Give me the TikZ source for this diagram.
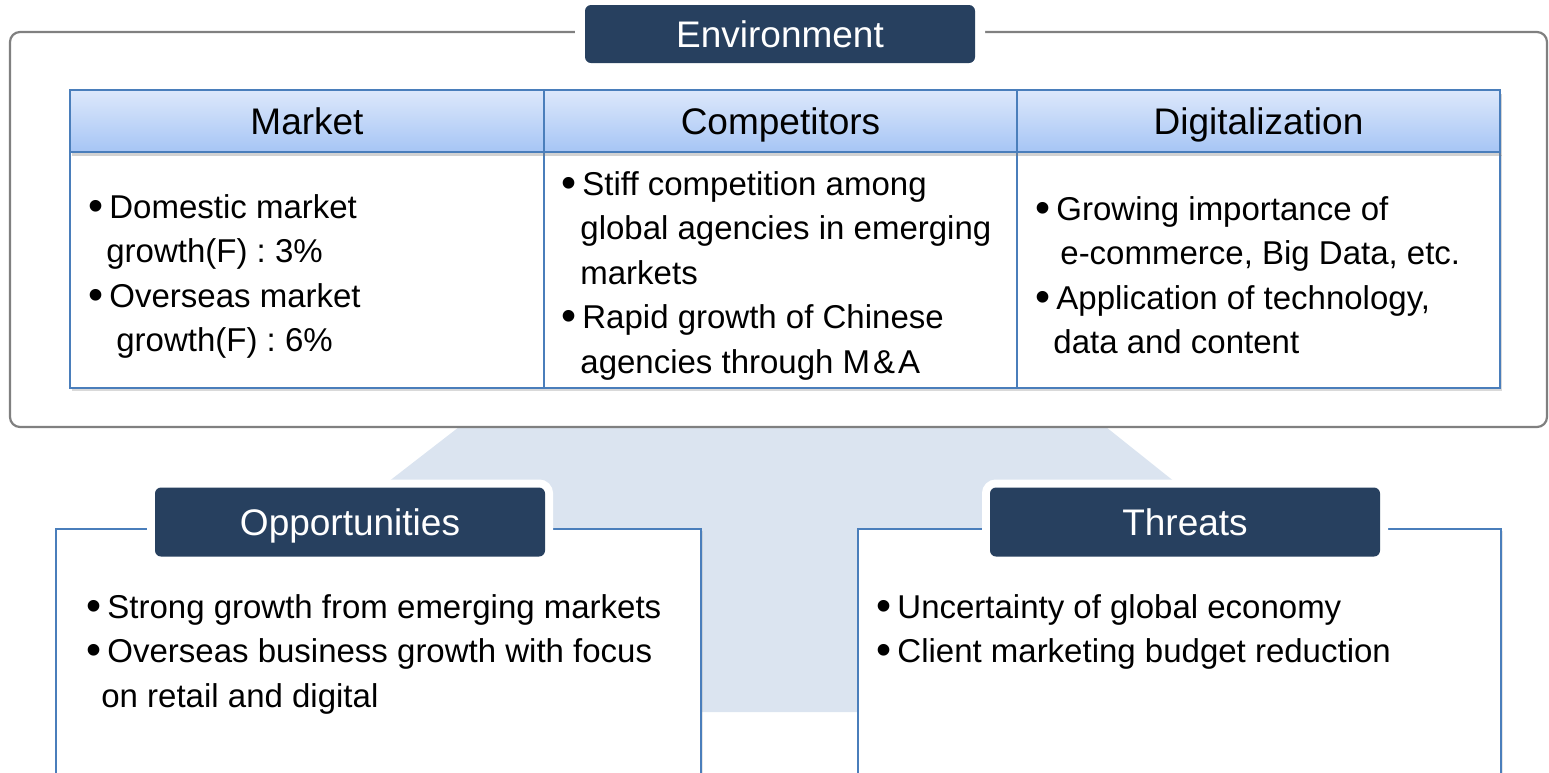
\documentclass[tikz,border=0pt]{standalone}
\usepackage{fontspec}
\usepackage{graphicx}
\setmainfont{Liberation Sans}
\usetikzlibrary{positioning,shadows}

\definecolor{navy}{HTML}{27405F}
\definecolor{cellline}{HTML}{4A7EBB}
\definecolor{headtop}{HTML}{DDE8FB}
\definecolor{headbot}{HTML}{A6C5F5}
\definecolor{funnel}{HTML}{DBE4F0}
\definecolor{framegray}{HTML}{808080}

% a slightly heavier bullet
\newcommand{\bul}{\raisebox{-1pt}{\scalebox{1.3}{\textbullet}}\kern3pt}

\tikzset{
  tag/.style={fill=navy, text=white, rounded corners=3pt, inner sep=0pt,
    minimum width=195pt, minimum height=#1,
    text height=14.5pt, text depth=1.5pt,
    font=\fontsize{18.5}{22}\selectfont,
    preaction={draw=white, line width=8pt}},
  tag/.default=29pt,
  envframe/.style={draw=framegray, line width=1.1pt, rounded corners=5pt},
  headcell/.style={draw=cellline, line width=0.7pt, top color=headtop,
    bottom color=headbot, minimum height=31pt, inner sep=0pt, outer sep=0pt,
    text height=14.5pt, text depth=1.5pt,
    font=\fontsize{18.5}{22}\selectfont,
    drop shadow={opacity=0.35, shadow xshift=0.8pt, shadow yshift=-1.8pt}},
  bodycell/.style={draw=cellline, line width=0.7pt, fill=white,
    minimum height=118pt, inner sep=0pt, outer sep=0pt,
    drop shadow={opacity=0.3, shadow xshift=0.8pt, shadow yshift=-1.6pt}},
  sidebox/.style={draw=cellline, line width=0.8pt, fill=white, anchor=north west,
    minimum height=150pt, inner sep=0pt,
    drop shadow={opacity=0.2, shadow xshift=1.2pt, shadow yshift=-1.2pt}},
  celltext/.style={anchor=north west, align=left, inner sep=0pt,
    font=\fontsize{16.5}{22.25}\selectfont}
}

\begin{document}
\begin{tikzpicture}[x=0.5pt, y=-0.5pt]
\useasboundingbox (0,0) rectangle (1549,772);

% light funnel behind the lower boxes
\fill[funnel] (459,427) -- (1106,427) -- (1463,712) -- (91,712) -- cycle;

% environment frame and its title
\draw[envframe] (10,32) rectangle (1547,427);
\node[tag, preaction={draw=white, line width=10pt}] (env) at (780,34) {Environment};

% table: bodies first, headers on top
\node[bodycell, minimum width=237pt] (mktb) at (307,270) {};
\node[bodycell, minimum width=236.5pt, right=0pt of mktb] (compb) {};
\node[bodycell, minimum width=241.5pt, right=0pt of compb] (digb) {};
\node[headcell, minimum width=237pt, above=0pt of mktb] (mkth) {Market};
\node[headcell, minimum width=236.5pt, above=0pt of compb] (comph) {Competitors};
\node[headcell, minimum width=241.5pt, above=0pt of digb] (digh) {Digitalization};

\node[celltext] (mktt) at (88,194) {\bul Domestic market\\
  \hspace{9pt}growth(F) : 3\%\\
  \bul Overseas market\\
  \hspace{14pt}growth(F) : 6\%};
\node[celltext] (compt) at (561,171) {\bul Stiff competition among\\
  \hspace{9.5pt}global agencies in emerging\\
  \hspace{9.5pt}markets\\
  \bul Rapid growth of Chinese\\
  \hspace{9.5pt}agencies through M\kern1.5pt\&\kern1.5pt A};
\node[celltext] (digt) at (1035,196) {\bul Growing importance of\\
  \hspace{12.5pt}e-commerce, Big Data, etc.\\
  \bul Application of technology,\\
  \hspace{9pt}data and content};

% opportunities and threats
\node[sidebox, minimum width=322.5pt] (oppbox) at (55,528) {};
\node[sidebox, minimum width=321.5pt] (thrbox) at (857,528) {};
\node[tag=34.5pt] (opp) at (350,522) {Opportunities};
\node[tag=34.5pt] (thr) at (1185,522) {Threats};

\node[celltext] (oppt) at (86,594) {\bul Strong growth from emerging markets\\
  \bul Overseas business growth with focus\\
  \hspace{7.5pt}on retail and digital};
\node[celltext] (thrt) at (876,594) {\bul Uncertainty of global economy\\
  \bul Client marketing budget reduction};
\end{tikzpicture}
\end{document}
